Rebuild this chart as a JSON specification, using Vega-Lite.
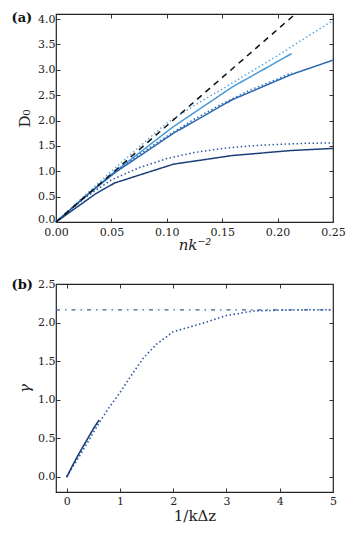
{
  "$schema": "https://vega.github.io/schema/vega-lite/v6.json",
  "background": "white",
  "padding": {"left": 10, "top": 10, "right": 5, "bottom": 5},
  "spacing": 24,
  "resolve": {"scale": {"color": "independent", "strokeDash": "independent"}},
  "config": {
    "font": "DejaVu Serif",
    "view": {"stroke": "#222", "strokeWidth": 1.2},
    "axis": {
      "grid": false, "domain": false, "tickSize": -4, "tickColor": "#333", "tickWidth": 1,
      "labelFont": "DejaVu Serif", "labelFontSize": 11, "labelColor": "#222", "labelFlush": false, "labelOverlap": false,
      "titleFont": "DejaVu Serif", "titleFontSize": 15, "titleFontWeight": "normal", "titleColor": "#222",
      "labelPadding": 5
    },
    "axisX": {"labelPadding": 8},
    "title": {"font": "DejaVu Serif", "fontSize": 13, "fontWeight": "bold", "anchor": "start", "frame": "bounds", "color": "#111"}
  },
  "datasets": {
    "a": [
      {"s": "dash", "x": 0, "y": 0}, {"s": "dash", "x": 0.216, "y": 4.1},
      {"s": "lightdot", "x": 0, "y": 0}, {"s": "lightdot", "x": 0.025, "y": 0.5}, {"s": "lightdot", "x": 0.05, "y": 1.0}, {"s": "lightdot", "x": 0.075, "y": 1.48}, {"s": "lightdot", "x": 0.1, "y": 1.95}, {"s": "lightdot", "x": 0.125, "y": 2.3}, {"s": "lightdot", "x": 0.15, "y": 2.62}, {"s": "lightdot", "x": 0.175, "y": 2.95}, {"s": "lightdot", "x": 0.2, "y": 3.28}, {"s": "lightdot", "x": 0.225, "y": 3.63}, {"s": "lightdot", "x": 0.25, "y": 3.97},
      {"s": "light", "x": 0, "y": 0}, {"s": "light", "x": 0.0265, "y": 0.51}, {"s": "light", "x": 0.053, "y": 0.99}, {"s": "light", "x": 0.106, "y": 1.88}, {"s": "light", "x": 0.159, "y": 2.66}, {"s": "light", "x": 0.2127, "y": 3.32},
      {"s": "meddot", "x": 0, "y": 0}, {"s": "meddot", "x": 0.025, "y": 0.48}, {"s": "meddot", "x": 0.05, "y": 0.93}, {"s": "meddot", "x": 0.075, "y": 1.33}, {"s": "meddot", "x": 0.1, "y": 1.69}, {"s": "meddot", "x": 0.125, "y": 2.03}, {"s": "meddot", "x": 0.15, "y": 2.33}, {"s": "meddot", "x": 0.175, "y": 2.6}, {"s": "meddot", "x": 0.2, "y": 2.82}, {"s": "meddot", "x": 0.2127, "y": 2.94},
      {"s": "med", "x": 0, "y": 0}, {"s": "med", "x": 0.0265, "y": 0.5}, {"s": "med", "x": 0.053, "y": 0.97}, {"s": "med", "x": 0.106, "y": 1.75}, {"s": "med", "x": 0.159, "y": 2.41}, {"s": "med", "x": 0.2127, "y": 2.91}, {"s": "med", "x": 0.25, "y": 3.19},
      {"s": "darkdot", "x": 0, "y": 0}, {"s": "darkdot", "x": 0.025, "y": 0.46}, {"s": "darkdot", "x": 0.05, "y": 0.83}, {"s": "darkdot", "x": 0.075, "y": 1.07}, {"s": "darkdot", "x": 0.1, "y": 1.25}, {"s": "darkdot", "x": 0.125, "y": 1.37}, {"s": "darkdot", "x": 0.15, "y": 1.45}, {"s": "darkdot", "x": 0.175, "y": 1.5}, {"s": "darkdot", "x": 0.2, "y": 1.53}, {"s": "darkdot", "x": 0.225, "y": 1.55}, {"s": "darkdot", "x": 0.25, "y": 1.56},
      {"s": "dark", "x": 0, "y": 0}, {"s": "dark", "x": 0.0354, "y": 0.55}, {"s": "dark", "x": 0.053, "y": 0.77}, {"s": "dark", "x": 0.106, "y": 1.14}, {"s": "dark", "x": 0.159, "y": 1.31}, {"s": "dark", "x": 0.2127, "y": 1.41}, {"s": "dark", "x": 0.25, "y": 1.45}
    ],
    "b": [
      {"s": "dashdot", "x": -0.2, "y": 2.163}, {"s": "dashdot", "x": 5, "y": 2.163},
      {"s": "dot", "x": 0, "y": 0}, {"s": "dot", "x": 0.2, "y": 0.22}, {"s": "dot", "x": 0.4, "y": 0.45}, {"s": "dot", "x": 0.62, "y": 0.71}, {"s": "dot", "x": 0.8, "y": 0.9}, {"s": "dot", "x": 1.0, "y": 1.09}, {"s": "dot", "x": 1.2, "y": 1.3}, {"s": "dot", "x": 1.44, "y": 1.54}, {"s": "dot", "x": 1.69, "y": 1.72}, {"s": "dot", "x": 2.0, "y": 1.88}, {"s": "dot", "x": 2.5, "y": 1.98}, {"s": "dot", "x": 3.0, "y": 2.09}, {"s": "dot", "x": 3.5, "y": 2.15}, {"s": "dot", "x": 4.0, "y": 2.16}, {"s": "dot", "x": 4.5, "y": 2.165}, {"s": "dot", "x": 5.0, "y": 2.165},
      {"s": "solid", "x": 0, "y": -0.01}, {"s": "solid", "x": 0.1, "y": 0.13}, {"s": "solid", "x": 0.2, "y": 0.26}, {"s": "solid", "x": 0.3, "y": 0.38}, {"s": "solid", "x": 0.4, "y": 0.5}, {"s": "solid", "x": 0.5, "y": 0.62}, {"s": "solid", "x": 0.61, "y": 0.735}
    ]
  },
  "vconcat": [
    {
      "width": 277, "height": 208,
      "title": {"text": "(a)", "offset": -14, "dx": -6},
      "data": {"name": "a"},
      "layer": [
        {
          "transform": [{"filter": "datum.s !== 'dash'"}],
          "mark": {"type": "line", "strokeWidth": 1.5},
          "encoding": {
            "x": {"field": "x", "type": "quantitative", "scale": {"domain": [0, 0.25], "nice": false},
                  "axis": {"values": [0, 0.05, 0.1, 0.15, 0.2, 0.25], "format": ".2f", "title": "nk⁻²", "titleFontStyle": "italic", "titlePadding": 0}},
            "y": {"field": "y", "type": "quantitative", "scale": {"domain": [0, 4.1], "nice": false},
                  "axis": {"values": [0, 0.5, 1, 1.5, 2, 2.5, 3, 3.5, 4], "format": ".1f", "title": "D₀", "titlePadding": 5,
                           "labelOffset": {"condition": {"test": "datum.value === 0", "value": -3}, "value": 0}}},
            "color": {"field": "s", "type": "nominal", "legend": null,
                      "scale": {"domain": ["lightdot", "light", "meddot", "med", "darkdot", "dark"], "range": ["#5fa8de", "#4a9ad6", "#2e6cb4", "#2a68b0", "#2f5a9e", "#1b3f7a"]}},
            "strokeDash": {"field": "s", "type": "nominal", "legend": null,
                      "scale": {"domain": ["lightdot", "light", "meddot", "med", "darkdot", "dark"], "range": [[1.5, 2.5], [1, 0], [1.5, 2.5], [1, 0], [1.5, 2.5], [1, 0]]}},
            "detail": {"field": "s"}
          }
        },
        {
          "transform": [{"filter": "datum.s === 'dash'"}],
          "mark": {"type": "line", "strokeWidth": 1.5, "color": "#111", "strokeDash": [6, 5]},
          "encoding": {
            "x": {"field": "x", "type": "quantitative", "axis": {"orient": "top", "labels": false, "title": null, "values": [0, 0.05, 0.1, 0.15, 0.2, 0.25]}},
            "y": {"field": "y", "type": "quantitative", "axis": {"orient": "right", "labels": false, "title": null, "values": [0, 0.5, 1, 1.5, 2, 2.5, 3, 3.5, 4]}}
          }
        }
      ],
      "resolve": {"axis": {"x": "independent", "y": "independent"}}
    },
    {
      "width": 277, "height": 208,
      "title": {"text": "(b)", "offset": -14, "dx": -6},
      "data": {"name": "b"},
      "layer": [
        {
          "transform": [{"filter": "datum.s !== 'dashdot'"}],
          "mark": {"type": "line", "strokeWidth": 1.6},
          "encoding": {
            "x": {"field": "x", "type": "quantitative", "scale": {"domain": [-0.2, 5], "nice": false},
                  "axis": {"values": [0, 1, 2, 3, 4, 5], "format": "d", "title": "1/kΔz", "titlePadding": 2, "labelPadding": 7}},
            "y": {"field": "y", "type": "quantitative", "scale": {"domain": [-0.2, 2.5], "nice": false},
                  "axis": {"values": [0, 0.5, 1, 1.5, 2, 2.5], "format": ".1f", "title": "γ", "titleFontStyle": "italic", "titlePadding": 5}},
            "color": {"field": "s", "type": "nominal", "legend": null, "scale": {"domain": ["dot", "solid"], "range": ["#2a55a0", "#1b3f7c"]}},
            "strokeDash": {"field": "s", "type": "nominal", "legend": null, "scale": {"domain": ["dot", "solid"], "range": [[1.5, 2.5], [1, 0]]}}
          }
        },
        {
          "transform": [{"filter": "datum.s === 'dashdot'"}],
          "mark": {"type": "line", "strokeWidth": 1.3, "color": "#3a5fa5", "strokeDash": [4, 5, 1.5, 5]},
          "encoding": {
            "x": {"field": "x", "type": "quantitative", "axis": {"orient": "top", "labels": false, "title": null, "values": [0, 1, 2, 3, 4, 5]}},
            "y": {"field": "y", "type": "quantitative", "axis": {"orient": "right", "labels": false, "title": null, "values": [0, 0.5, 1, 1.5, 2, 2.5]}}
          }
        }
      ],
      "resolve": {"axis": {"x": "independent", "y": "independent"}}
    }
  ]
}
